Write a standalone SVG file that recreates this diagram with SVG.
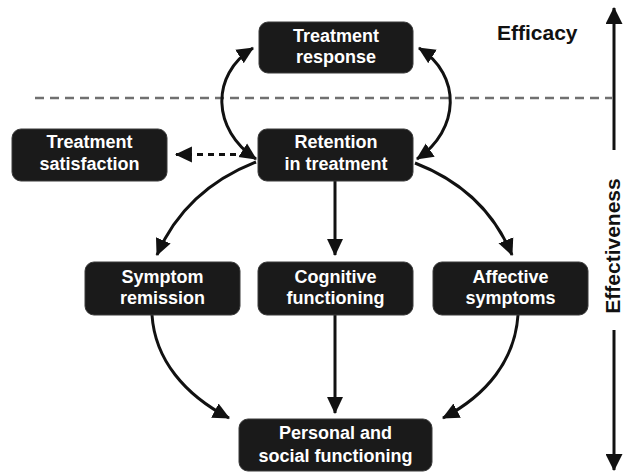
<svg xmlns="http://www.w3.org/2000/svg" width="623" height="472" viewBox="0 0 623 472">
<style>
.box{fill:#1a1a1a;stroke:#3a3a3a;stroke-width:1}
.lbl{font-family:"Liberation Sans",Arial,sans-serif;font-weight:bold;font-size:18px;fill:#ffffff;text-anchor:middle}
.side{font-family:"Liberation Sans",Arial,sans-serif;font-weight:bold;font-size:21px;fill:#111111}
.con{fill:none;stroke:#111111;stroke-width:3}
</style>
<defs>
<marker id="ah" markerUnits="userSpaceOnUse" markerWidth="17" markerHeight="17" viewBox="0 0 16 15" refX="15" refY="7.5" orient="auto-start-reverse">
<path d="M0,0 L16,7.5 L0,15 z" fill="#111111"/>
</marker>
<marker id="ahb" markerUnits="userSpaceOnUse" markerWidth="17" markerHeight="17" viewBox="0 0 16 16" refX="15" refY="8" orient="auto-start-reverse">
<path d="M0,0 L16,8 L0,16 z" fill="#111111"/>
</marker>
</defs>
<rect width="623" height="472" fill="#ffffff"/>
<line x1="35" y1="98" x2="612" y2="98" stroke="#707070" stroke-width="2.5" stroke-dasharray="9 6"/>
<g id="connectors">
<path class="con" d="M256,159 C212,130 210,75 253,48" marker-start="url(#ah)" marker-end="url(#ah)"/>
<path class="con" d="M417,159 C460,130 462,75 419,48" marker-start="url(#ah)" marker-end="url(#ah)"/>
<path class="con" d="M236,154.5 L176,154.5" stroke-dasharray="6 5" marker-end="url(#ah)"/>
<path class="con" d="M256,162 Q185,190 157,255" marker-end="url(#ah)"/>
<path class="con" d="M415,163 Q485,190 512,255" marker-end="url(#ah)"/>
<path class="con" d="M335,181 L335,255" marker-end="url(#ah)"/>
<path class="con" d="M335,315 L335,413" marker-end="url(#ah)"/>
<path class="con" d="M152,315 C155,360 185,395 229,418" marker-end="url(#ah)"/>
<path class="con" d="M518,315 C515,360 487,395 443,418" marker-end="url(#ah)"/>
<path class="con" d="M614,150 L614,8" marker-end="url(#ahb)"/>
<path class="con" d="M614,330 L614,470" marker-end="url(#ahb)"/>
</g>
<g id="response"><rect class="box" x="259" y="22" width="154" height="51" rx="9"/><text class="lbl" x="336" y="42">Treatment</text><text class="lbl" x="336" y="63">response</text></g>
<g id="retention"><rect class="box" x="258" y="129" width="155" height="52" rx="9"/><text class="lbl" x="336" y="148">Retention</text><text class="lbl" x="336" y="170">in treatment</text></g>
<g id="satisfaction"><rect class="box" x="12" y="129" width="155" height="52" rx="9"/><text class="lbl" x="89.5" y="148">Treatment</text><text class="lbl" x="89.5" y="170">satisfaction</text></g>
<g id="symptom"><rect class="box" x="85" y="262" width="155" height="53" rx="9"/><text class="lbl" x="162.5" y="283">Symptom</text><text class="lbl" x="162.5" y="304">remission</text></g>
<g id="cognitive"><rect class="box" x="258" y="262" width="155" height="53" rx="9"/><text class="lbl" x="335.5" y="283">Cognitive</text><text class="lbl" x="335.5" y="304">functioning</text></g>
<g id="affective"><rect class="box" x="433" y="262" width="155" height="53" rx="9"/><text class="lbl" x="510.5" y="283">Affective</text><text class="lbl" x="510.5" y="304">symptoms</text></g>
<g id="personal"><rect class="box" x="239" y="419" width="193" height="52" rx="9"/><text class="lbl" x="335.5" y="439">Personal and</text><text class="lbl" x="335.5" y="462">social functioning</text></g>
<text class="side" x="497" y="40">Efficacy</text>
<text class="side" text-anchor="middle" transform="translate(620,246) rotate(-90)">Effectiveness</text>
</svg>
